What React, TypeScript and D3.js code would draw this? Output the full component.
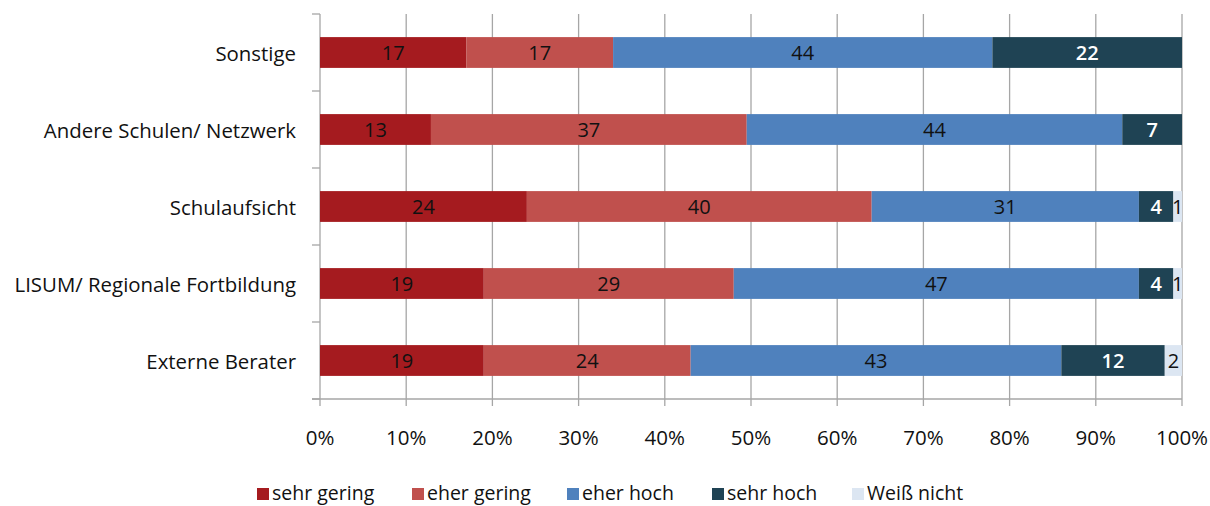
import React from "react";
import * as d3 from "d3";

const categories = ["Sonstige", "Andere Schulen/ Netzwerk", "Schulaufsicht", "LISUM/ Regionale Fortbildung", "Externe Berater"];
const seriesNames = ["sehr gering", "eher gering", "eher hoch", "sehr hoch", "Weiß nicht"];
const sehrGering = [17, 13, 24, 19, 19];
const eherGering = [17, 37, 40, 29, 24];
const eherHoch = [44, 44, 31, 47, 43];
const sehrHoch = [22, 7, 4, 4, 12];
const weissNicht = [0, 0, 1, 1, 2];
const xTicks = [0, 0.1, 0.2, 0.3, 0.4, 0.5, 0.6, 0.7, 0.8, 0.9, 1];

const colors = ["#A51B1F", "#C0504D", "#4F81BD", "#1F4354", "#DCE6F2"];
const labelColors = ["#111", "#111", "#111", "#fff", "#111"];
const FONT = "'Open Sans', Lato, sans-serif";

export default function App() {
  const W = 1210, H = 506;
  const left = 320, right = 1182, top = 14, bottom = 399;
  const x = d3.scaleLinear().domain([0, 1]).range([left, right]);
  const y = d3.scaleBand().domain(categories).range([top, bottom]).paddingInner(0.6).paddingOuter(0.3);
  const band = d3.scaleBand().domain(categories).range([top, bottom]);
  const series = [sehrGering, eherGering, eherHoch, sehrHoch, weissNicht];
  const rows = categories.map((c, i) => {
    const vals = series.map(s => s[i]);
    const total = d3.sum(vals);
    let acc = 0;
    return vals.map((v, k) => {
      const x0 = acc / total;
      acc += v;
      return { cat: c, k, v, x0, x1: acc / total };
    });
  });
  const legendX = [257, 412, 567, 712, 852];
  return (
    <svg width={W} height={H} style={{ position: "absolute", left: 0, top: 0 }}>
      <rect width={W} height={H} fill="#fff" />
      {xTicks.map(t => (
        <line key={t} x1={x(t)} x2={x(t)} y1={top} y2={bottom + 7} stroke="#A6A6A6" strokeWidth={1.3} />
      ))}
      <line x1={left - 8} x2={right} y1={bottom} y2={bottom} stroke="#A6A6A6" strokeWidth={1.3} />
      {[...categories.map(c => band(c) as number), bottom].map((v, i) => (
        <line key={i} x1={left - 8} x2={left} y1={v} y2={v} stroke="#A6A6A6" strokeWidth={1.3} />
      ))}
      {rows.map(r => r.filter(d => d.v > 0).map(d => (
        <g key={d.cat + d.k}>
          <rect x={x(d.x0)} width={x(d.x1) - x(d.x0)} y={y(d.cat)} height={y.bandwidth()} fill={colors[d.k]} />
          <text x={(x(d.x0) + x(d.x1)) / 2} y={(y(d.cat) as number) + y.bandwidth() / 2 + 7.5}
            textAnchor="middle" fontFamily={FONT} fontSize={20} fill={labelColors[d.k]}
            fontWeight={d.k === 3 ? 600 : "normal"}>{d.v}</text>
        </g>
      )))}
      {categories.map(c => (
        <text key={c} x={296} y={(y(c) as number) + y.bandwidth() / 2 + 8} textAnchor="end"
          fontFamily={FONT} fontSize={20.4} fill="#111">{c}</text>
      ))}
      {xTicks.map(t => (
        <text key={t} x={x(t)} y={445} textAnchor="middle" fontFamily={FONT} fontSize={20.5} fill="#111">
          {d3.format(".0%")(t)}
        </text>
      ))}
      {seriesNames.map((n, k) => (
        <g key={n}>
          <rect x={legendX[k]} y={488} width={12} height={12} fill={colors[k]} />
          <text x={legendX[k] + 15} y={500} fontFamily={FONT} fontSize={19.5} fill="#111">{n}</text>
        </g>
      ))}
    </svg>
  );
}
